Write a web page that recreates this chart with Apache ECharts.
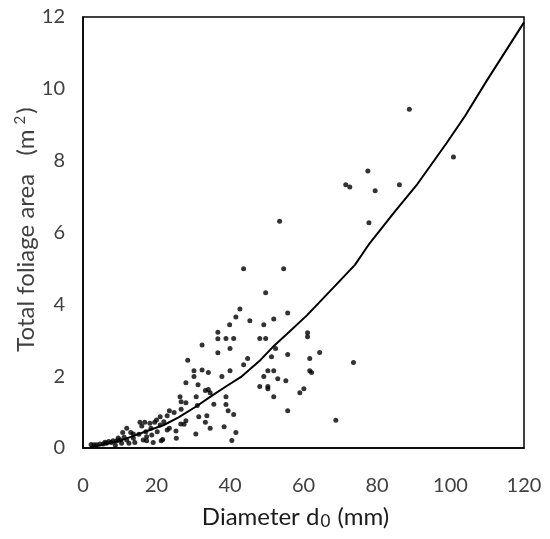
<!DOCTYPE html>
<html><head><meta charset="utf-8">
<script src="https://cdn.jsdelivr.net/npm/echarts@6/dist/echarts.min.js"></script>
<style>html,body{margin:0;padding:0;background:#fff}#c{width:550px;height:539px}</style>
</head><body><div id="c"></div>
<script>
// Observed data: diameter d0 (mm), total foliage area (m2)
const obsDiameter = [
 53.5,77.8,43.7,54.6,49.7,42.7,41.6,55.7,39.9,45.4,49.2,51.9,38.9,41.0,48.1,49.7,61.1,61.1,40.0,52.4,
 51.3,55.7,64.4,61.7,44.8,43.7,73.6,37.8,40.0,50.3,51.9,61.7,62.2,49.2,53.0,55.2,48.1,50.3,50.3,51.9,
 60.1,59.0,38.9,38.9,39.5,41.0,55.7,68.8,38.4,
 32.4,36.7,36.7,36.7,28.5,30.2,32.4,30.2,34.1,28.0,31.3,34.1,34.6,33.3,30.8,26.4,26.7,28.0,35.6,26.7,
 24.8,23.5,22.9,31.1,31.5,33.7,33.3,34.6,30.7,40.5,41.6,28.0,27.5,26.6,25.3,25.4,23.5,22.9,22.0,21.0,
 21.0,20.0,19.5,20.2,21.3,21.7,18.2,18.5,16.8,15.5,16.0,17.1,18.7,16.4,17.3,19.1,17.3,15.2,13.7,13.0,
 11.9,10.8,13.7,14.1,11.9,10.1,9.2,8.2,7.7,7.0,6.4,5.5,4.6,3.7,3.0,10.5,12.5,8.8,2.2,11.2,9.6,6.0,
 88.8,100.8,77.5,71.5,72.6,79.5,86.1
];
const obsArea = [
 6.31,6.27,4.99,4.99,4.32,3.87,3.65,3.76,3.43,3.54,3.43,3.59,3.05,3.05,3.05,3.05,3.21,3.10,2.77,2.77,
 2.54,2.60,2.66,2.49,2.49,2.32,2.38,1.99,2.15,2.15,2.15,2.15,2.10,1.99,1.93,1.87,1.71,1.71,1.65,1.43,
 1.65,1.54,1.43,1.21,1.04,0.93,1.04,0.77,0.59,
 2.87,3.22,3.04,2.65,2.44,2.15,2.17,1.99,2.10,1.82,1.76,1.63,1.54,1.60,1.43,1.43,1.29,1.26,1.22,1.08,
 0.99,1.04,0.90,1.18,0.87,0.90,0.72,0.55,0.39,0.21,0.43,0.76,0.66,0.67,0.47,0.27,0.55,0.50,0.73,0.64,
 0.87,0.78,0.72,0.45,0.20,0.24,0.69,0.55,0.72,0.72,0.61,0.45,0.36,0.22,0.20,0.15,0.31,0.38,0.39,0.43,
 0.55,0.43,0.27,0.15,0.22,0.22,0.20,0.20,0.15,0.18,0.13,0.11,0.11,0.09,0.09,0.13,0.13,0.08,0.10,0.30,0.28,0.16,
 9.43,8.10,7.71,7.33,7.27,7.16,7.33
];
// Fitted curve
const fitDiameter = [2,5,10,13,17,22,26,31,35,39,43,48,52,56,61,68,74,78,85,91,99,104,110,120];
const fitArea = [0.03,0.08,0.2,0.31,0.46,0.64,0.85,1.17,1.45,1.72,1.98,2.42,2.85,3.22,3.70,4.45,5.1,5.7,6.6,7.35,8.5,9.25,10.25,11.85];
const xTicks = [0,20,40,60,80,100,120];
const yTicks = [0,2,4,6,8,10,12];

const font = 'Lato, "Open Sans", sans-serif';
const chart = echarts.init(document.getElementById('c'), null, {renderer:'canvas'});
chart.setOption({
  animation:false,
  backgroundColor:'#fff',
  grid:{left:83,right:26,top:17,bottom:91,show:true,borderColor:'#000',borderWidth:1.5,backgroundColor:'transparent'},
  xAxis:{type:'value',min:xTicks[0],max:xTicks[xTicks.length-1],interval:20,
    axisLine:{show:true,onZero:false,lineStyle:{color:'#000',width:1.5}},
    axisTick:{show:false},splitLine:{show:false},
    axisLabel:{color:'#404040',fontSize:20,fontFamily:font,margin:28},
    name:'{a|Diameter d}{s|0}{a| (mm)}',nameLocation:'middle',nameGap:56,
    nameTextStyle:{padding:[0,16,0,0],rich:{a:{fontSize:24,fontFamily:font,color:'#1a1a1a',lineHeight:26},s:{fontSize:17,fontFamily:font,color:'#1a1a1a',verticalAlign:'bottom',lineHeight:26,padding:[0,1,0,1]}}}
  },
  yAxis:{type:'value',min:yTicks[0],max:yTicks[yTicks.length-1],interval:2,
    axisLine:{show:true,onZero:false,lineStyle:{color:'#000',width:1.5}},
    axisTick:{show:false},splitLine:{show:false},
    axisLabel:{color:'#404040',fontSize:20,fontFamily:font,margin:18},
    name:'{a|Total foliage area   (m}{s|2}{a|)}',nameLocation:'middle',nameGap:43,nameMoveOverlap:false,
    nameTextStyle:{padding:[0,0,0,6],rich:{a:{fontSize:24,fontFamily:font,color:'#404040',lineHeight:27},s:{fontSize:15,fontFamily:font,color:'#404040',verticalAlign:'top',lineHeight:15,padding:[0,2,0,5]}}}
  },
  series:[
    {type:'scatter',data:obsDiameter.map((d,i)=>[d,obsArea[i]]),symbol:'circle',symbolSize:5,itemStyle:{color:'#000'}},
    {type:'line',data:fitDiameter.map((d,i)=>[d,fitArea[i]]),showSymbol:false,smooth:false,lineStyle:{color:'#000',width:2}}
  ]
});
</script></body></html>
